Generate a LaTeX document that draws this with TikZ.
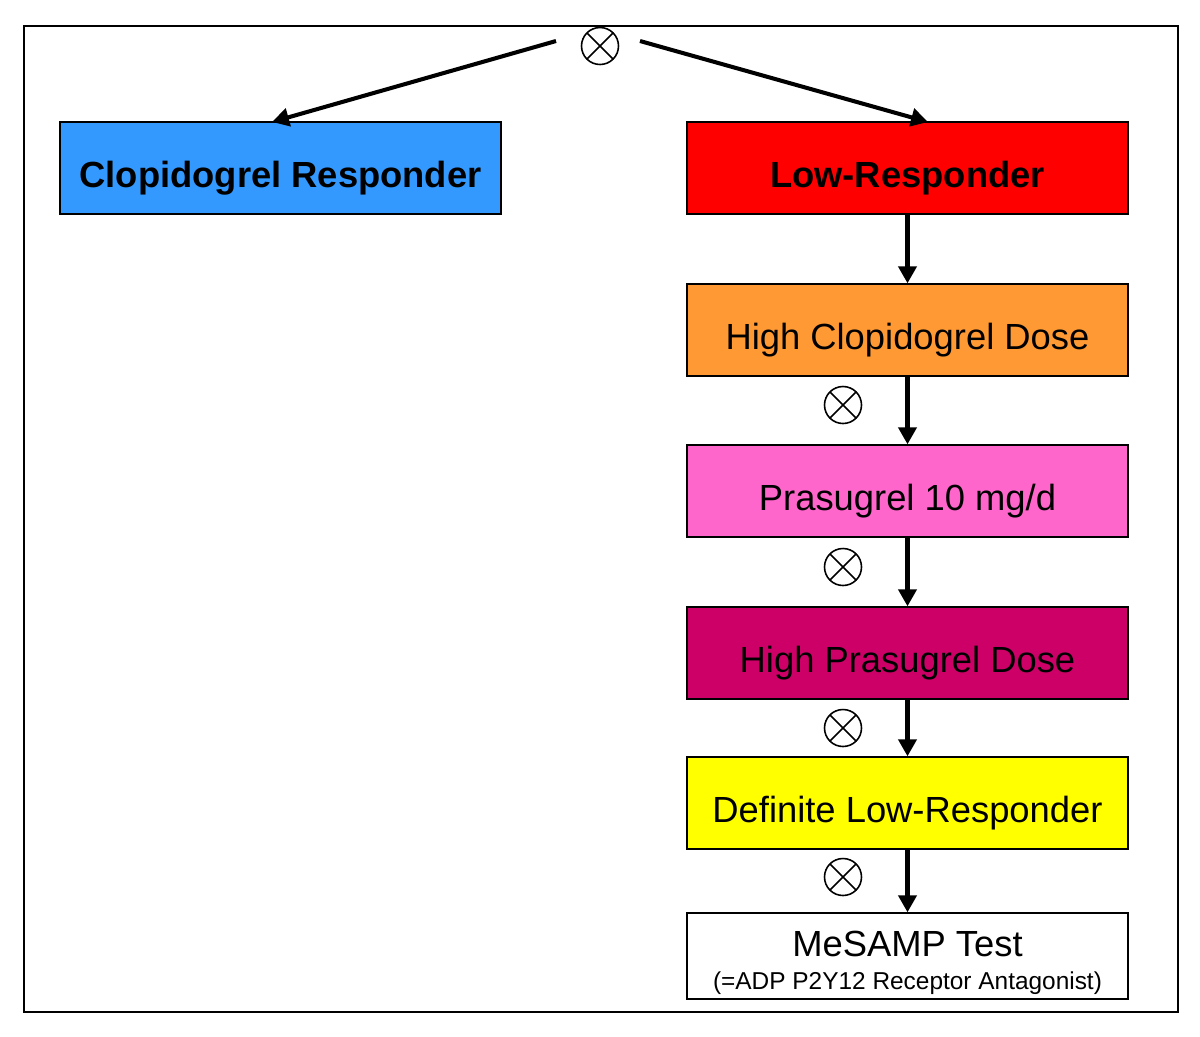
\documentclass[tikz,border=0pt]{standalone}
\usepackage{fontspec}
\setmainfont{Liberation Sans}
\usetikzlibrary{arrows.meta}
\definecolor{respblue}{RGB}{51,153,255}
\definecolor{lowred}{RGB}{255,0,0}
\definecolor{doseorange}{RGB}{255,153,51}
\definecolor{prapink}{RGB}{255,102,204}
\definecolor{hpdmagenta}{RGB}{204,0,102}
\definecolor{dlryellow}{RGB}{255,255,0}
\begin{document}
\begin{tikzpicture}[x=0.02cm, y=-0.02cm,
  boxbase/.style={draw, line width=0.8pt, minimum width=8.82cm, minimum height=1.84cm,
    inner sep=0pt, font=\fontsize{20.7}{18.7}\selectfont},
  box/.style={boxbase, text height=22pt, text depth=0pt},
  boldbox/.style={box, font=\fontsize{20.7}{18.7}\selectfont\bfseries},
  arr/.style={line width=2.3pt, -{Triangle[length=0.34cm, width=0.36cm]}},
  ox/.style={draw, circle, line width=0.9pt, minimum size=0.74cm, inner sep=0pt,
    path picture={\draw[line width=0.9pt]
      (path picture bounding box.center) ++(45:0.37cm) -- ++(225:0.74cm)
      (path picture bounding box.center) ++(135:0.37cm) -- ++(315:0.74cm);}}]
\useasboundingbox (0,0) rectangle (1200,1036);
\draw[line width=1.1pt] (24,26) rectangle (1178,1012);

\node[ox] (top) at (600,46) {};
\coordinate (L0) at (556,41);
\coordinate (L1) at (272,122);
\coordinate (R0) at (640,41);
\coordinate (R1) at (928,122);

\node[boldbox, fill=respblue] (resp) at (280.5,168) {Clopidogrel Responder};
\node[boldbox, fill=lowred] (low) at (907.5,168) {Low-Responder};
\node[box, fill=doseorange] (hcd) at (907.5,330) {High Clopidogrel Dose};
\node[box, fill=prapink] (pra) at (907.5,491) {Prasugrel 10 mg/d};
\node[box, fill=hpdmagenta] (hpd) at (907.5,653) {High Prasugrel Dose};
\node[box, fill=dlryellow] (dlr) at (907.5,803) {Definite Low-Responder};
\node[boxbase, fill=white, minimum height=1.72cm, align=center] (mes) at (907.5,956)
  {\rule{0pt}{22pt}MeSAMP Test\\{\fontsize{13.9}{16}\selectfont (=ADP P2Y12 Receptor Antagonist)}};

\node[ox] (x1) at (843,405) {};
\node[ox] (x2) at (843,567) {};
\node[ox] (x3) at (843,728) {};
\node[ox] (x4) at (843,877) {};

\draw[arr] (L0) -- (L1);
\draw[arr] (R0) -- (R1);
\draw[arr] (low) -- (hcd);
\draw[arr] (hcd) -- (pra);
\draw[arr] (pra) -- (hpd);
\draw[arr] (hpd) -- (dlr);
\draw[arr] (dlr) -- (mes);
\end{tikzpicture}
\end{document}
